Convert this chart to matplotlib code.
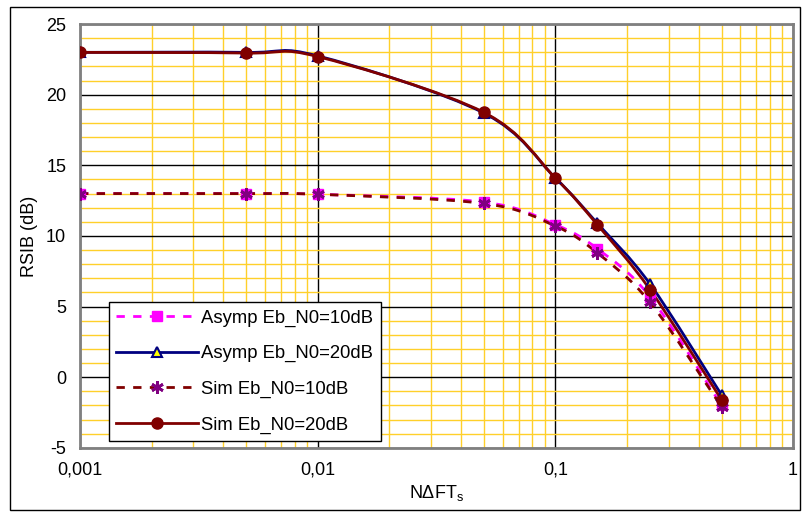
import matplotlib.pyplot as plt
import numpy as np
from matplotlib.path import Path
from matplotlib.patches import PathPatch, Rectangle
from matplotlib.lines import Line2D
from matplotlib.ticker import FixedLocator, MultipleLocator, FixedFormatter

plt.rcParams['font.family'] = ['Liberation Sans', 'DejaVu Sans']
plt.rcParams['axes.unicode_minus'] = False

# data
x_vals = [0.001, 0.005, 0.01, 0.05, 0.1, 0.15, 0.25, 0.5]
asymp_10 = [13.0, 13.0, 12.95, 12.4, 10.8, 9.1, 5.7, -2.0]
asymp_20 = [23.0, 23.0, 22.75, 18.7, 14.1, 10.9, 6.6, -1.25]
sim_10 = [13.0, 13.0, 12.95, 12.3, 10.7, 8.8, 5.3, -2.1]
sim_20 = [23.0, 22.95, 22.7, 18.75, 14.1, 10.8, 6.2, -1.6]
labels = ['Asymp Eb_N0=10dB', 'Asymp Eb_N0=20dB', 'Sim Eb_N0=10dB', 'Sim Eb_N0=20dB']
x_ticks = [0.001, 0.01, 0.1, 1]
x_tick_labels = ['0,001', '0,01', '0,1', '1']


def smooth_path(xs, ys):
    # Excel-like smoothed line: Catmull-Rom bezier in log-x space
    lx = np.log10(xs)
    ys = np.asarray(ys, dtype=float)
    n = len(lx)
    verts = [(xs[0], ys[0])]
    codes = [Path.MOVETO]
    for i in range(n - 1):
        i0 = max(i - 1, 0)
        i3 = min(i + 2, n - 1)
        c1x = lx[i] + (lx[i + 1] - lx[i0]) / 6
        c1y = ys[i] + (ys[i + 1] - ys[i0]) / 6
        c2x = lx[i + 1] - (lx[i3] - lx[i]) / 6
        c2y = ys[i + 1] - (ys[i3] - ys[i]) / 6
        verts += [(10 ** c1x, c1y), (10 ** c2x, c2y), (xs[i + 1], ys[i + 1])]
        codes += [Path.CURVE4] * 3
    return Path(verts, codes)


fig = plt.figure(figsize=(8.06, 5.13), dpi=100)
ax = fig.add_axes([0.0993, 0.127, 0.8847, 0.826])
fig.patches.append(Rectangle((10 / 806, 3 / 513), 790 / 806, 503 / 513,
                             transform=fig.transFigure, fill=False,
                             edgecolor='black', lw=1))

styles = [
    dict(color='#FF00FF', ls=(0, (3, 3)), marker='s', mfc='#FF00FF', mec='#FF00FF', ms=7),
    dict(color='#000080', ls='-', marker='^', mfc='#FFFF00', mec='#000080', ms=7, mew=1.5),
    dict(color='#800000', ls=(0, (3, 3)), marker=(6, 2, 0), mfc='#800080', mec='#800080', ms=9, mew=2),
    dict(color='#800000', ls='-', marker='o', mfc='#800000', mec='#800000', ms=8),
]
series = [asymp_10, asymp_20, sim_10, sim_20]

ax.set_xscale('log')
handles = []
for ys, st, lab in zip(series, styles, labels):
    p = PathPatch(smooth_path(x_vals, ys), fill=False, edgecolor=st['color'],
                  lw=2, linestyle=st['ls'], zorder=3)
    ax.add_patch(p)
    ax.plot(x_vals, ys, linestyle='none', marker=st['marker'], ms=st['ms'],
            mfc=st['mfc'], mec=st['mec'], mew=st.get('mew', 1), zorder=4)
    handles.append(Line2D([], [], color=st['color'], lw=2, linestyle=st['ls'],
                          marker=st['marker'], ms=st['ms'], mfc=st['mfc'],
                          mec=st['mec'], mew=st.get('mew', 1)))

ax.set_xlim(0.001, 1)
ax.set_ylim(-5, 25)
ax.xaxis.set_major_locator(FixedLocator(x_ticks))
ax.xaxis.set_major_formatter(FixedFormatter(x_tick_labels))
ax.yaxis.set_major_locator(MultipleLocator(5))
ax.yaxis.set_minor_locator(MultipleLocator(1))
ax.yaxis.set_minor_formatter(plt.NullFormatter())
ax.xaxis.set_minor_formatter(plt.NullFormatter())

ax.grid(True, which='minor', color='#FFD02A', lw=1, zorder=0)
ax.grid(True, which='major', color='black', lw=1, zorder=1)
ax.set_axisbelow(True)
ax.tick_params(which='both', length=0, labelsize=13, pad=10)
for s in ax.spines.values():
    s.set_color('#808080')
    s.set_linewidth(2)

ax.set_ylabel('RSIB (dB)', fontsize=13, labelpad=6)
ax.set_xlabel('N\u0394FT$_\\mathregular{s}$', fontsize=13, labelpad=3)

leg = ax.legend(handles, labels, loc='lower left', bbox_to_anchor=(0.038, 0.012),
                fontsize=13.3, frameon=True, fancybox=False, edgecolor='black',
                framealpha=1, handlelength=4.4, handletextpad=0.2,
                labelspacing=1.0, borderpad=0.4, borderaxespad=0.1)
leg.get_frame().set_linewidth(1)

fig.savefig('out.png', dpi=100)
